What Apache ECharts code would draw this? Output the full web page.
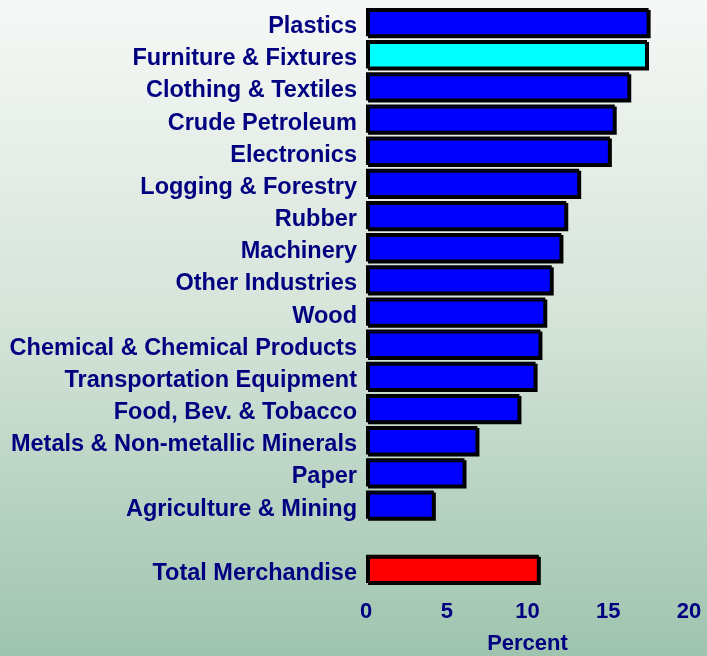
<!DOCTYPE html>
<html>
<head>
<meta charset="utf-8">
<style>
  html, body { margin: 0; padding: 0; }
  #chart { width: 707px; height: 656px; }
</style>
<script src="https://cdn.jsdelivr.net/npm/echarts@6/dist/echarts.min.js"></script>
</head>
<body>
<div id="chart"></div>
<script>
    // categories top to bottom, '' is the blank row before the total
    var categories = [
        'Plastics', 'Furniture & Fixtures', 'Clothing & Textiles', 'Crude Petroleum',
        'Electronics', 'Logging & Forestry', 'Rubber', 'Machinery', 'Other Industries',
        'Wood', 'Chemical & Chemical Products', 'Transportation Equipment',
        'Food, Bev. & Tobacco', 'Metals & Non-metallic Minerals', 'Paper',
        'Agriculture & Mining', '', 'Total Merchandise'
    ];
    var values = [17.5, 17.4, 16.3, 15.4, 15.1, 13.2, 12.4, 12.1, 11.5, 11.1, 10.8, 10.5,
        9.5, 6.9, 6.1, 4.2, null, 10.7];
    var xTicks = [0, 5, 10, 15, 20];

    var barColor = '#0000ff';
    var specialColors = {
        'Furniture & Fixtures': '#00ffff',
        'Total Merchandise': '#ff0000'
    };

    var myChart = echarts.init(document.getElementById('chart'));
    var seriesData = categories.map(function (name, i) {
        return {
            value: values[i],
            itemStyle: { color: specialColors[name] || barColor }
        };
    });

    var font = 'Liberation Sans, Arial, sans-serif';
    var navy = '#000080';

    var option = {
        backgroundColor: new echarts.graphic.LinearGradient(0, 0, 0, 1, [
            { offset: 0, color: '#f6f8f6' },
            { offset: 0.5, color: '#d4e3d8' },
            { offset: 1, color: '#9ec4ae' }
        ]),
        grid: {
            left: 366,
            right: 18,
            top: 6,
            bottom: 71,
            outerBoundsMode: 'none'
        },
        xAxis: {
            type: 'value',
            min: xTicks[0],
            max: xTicks[xTicks.length - 1],
            interval: 5,
            axisLine: { show: false },
            axisTick: { show: false },
            splitLine: { show: false },
            axisLabel: {
                margin: 16,
                fontFamily: font,
                fontWeight: 'bold',
                fontSize: 22,
                color: navy
            },
            name: 'Percent',
            nameLocation: 'middle',
            nameGap: 48,
            nameTextStyle: {
                fontFamily: font,
                fontWeight: 'bold',
                fontSize: 22,
                color: navy
            }
        },
        yAxis: {
            type: 'category',
            data: categories,
            inverse: true,
            axisLine: { show: false },
            axisTick: { show: false },
            splitLine: { show: false },
            axisLabel: {
                margin: 9,
                interval: 0,
                formatter: function (v) { return '{t|' + v + '}'; },
                rich: {
                    t: {
                        padding: [9, 0, 0, 0],
                        fontFamily: font,
                        fontWeight: 'bold',
                        fontSize: 23.5,
                        color: navy
                    }
                }
            }
        },
        series: [
            {
                type: 'bar',
                data: seriesData,
                barCategoryGap: '12%',
                itemStyle: {
                    borderColor: '#000000',
                    borderWidth: 2,
                    shadowColor: '#000000',
                    shadowOffsetX: 2,
                    shadowOffsetY: 2,
                    shadowBlur: 0
                },
                animation: false
            }
        ]
    };
    myChart.setOption(option);
</script>
</body>
</html>
